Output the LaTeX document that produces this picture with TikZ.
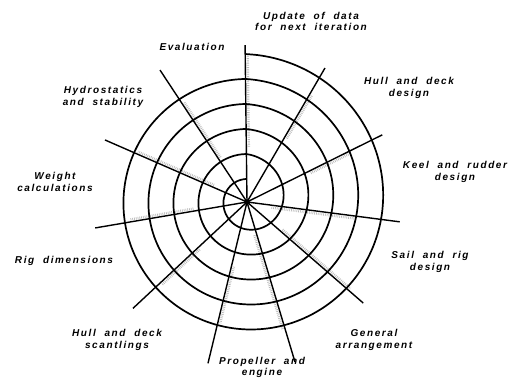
\documentclass[tikz,border=0pt]{standalone}
\usepackage{fontspec}
\newfontfamily\lblfont[LetterSpace=16,WordSpace=2.0]{Liberation Sans}
\usetikzlibrary{positioning}

\begin{document}
\begin{tikzpicture}[x=1pt,y=1pt]
\tikzset{
  spoke/.style={line width=1.4pt},
  ring/.style={line width=1.7pt},
  stipple/.style={gray!55,line width=2.4pt,dash pattern=on 0.7pt off 1.1pt},
  lbl/.style={align=center,inner sep=0pt,font={\lblfont\bfseries\itshape\fontsize{10}{11.5}\selectfont}}
}
\useasboundingbox (0,0) rectangle (520,378);
\coordinate (hub) at (247,176);
% spoke ends
\coordinate (e_update) at ([shift={(90.7:157)}]hub);
\coordinate (e_hulldeck) at ([shift={(59.8:155)}]hub);
\coordinate (e_keel) at ([shift={(26.4:151)}]hub);
\coordinate (e_sail) at ([shift={(-7.4:154)}]hub);
\coordinate (e_ga) at ([shift={(-41:154)}]hub);
\coordinate (e_propr) at ([shift={(-73.3:167)}]hub);
\coordinate (e_propl) at ([shift={(-103.6:166)}]hub);
\coordinate (e_scant) at ([shift={(-137:156)}]hub);
\coordinate (e_rig) at ([shift={(-170.3:154)}]hub);
\coordinate (e_weight) at ([shift={(156.4:155)}]hub);
\coordinate (e_eval) at ([shift={(123.4:158)}]hub);
% shading along the spokes
\draw[stipple,shift={(hub)},rotate=90.7,yshift=-2.5] (55,0) -- (146,0);
\draw[stipple,shift={(hub)},rotate=59.8,yshift=-2.5] (75,0) -- (125,0);
\draw[stipple,shift={(hub)},rotate=26.4,yshift=-2.5] (70,0) -- (115,0);
\draw[stipple,shift={(hub)},rotate=-7.4,yshift=-2.5] (25,0) -- (110,0);
\draw[stipple,shift={(hub)},rotate=-41,yshift=2.5] (45,0) -- (135,0);
\draw[stipple,shift={(hub)},rotate=-73.3,yshift=-2.5] (34,0) -- (133,0);
\draw[stipple,shift={(hub)},rotate=-103.6,yshift=2.5] (66,0) -- (124,0);
\draw[stipple,shift={(hub)},rotate=-137,yshift=2.5] (67,0) -- (119,0);
\draw[stipple,shift={(hub)},rotate=-170.3,yshift=-2.5] (54,0) -- (118,0);
\draw[stipple,shift={(hub)},rotate=156.4,yshift=-2.5] (37,0) -- (120,0);
\draw[stipple,shift={(hub)},rotate=123.4,yshift=-2.5] (52,0) -- (118,0);
% the spiral, five turns inward
\draw[ring,shift={(hub)}] plot[smooth,domain=0:1800,samples=361] ({90.7-\x}:{148-\x/14.4-8*abs(sin(\x/2))});
% spokes
\draw[spoke] (hub) -- (e_update);
\draw[spoke] (hub) -- (e_hulldeck);
\draw[spoke] (hub) -- (e_keel);
\draw[spoke] (hub) -- (e_sail);
\draw[spoke] (hub) -- (e_ga);
\draw[spoke] (hub) -- (e_propr);
\draw[spoke] (hub) -- (e_propl);
\draw[spoke] (hub) -- (e_scant);
\draw[spoke] (hub) -- (e_rig);
\draw[spoke] (hub) -- (e_weight);
\draw[spoke] (hub) -- (e_eval);
\fill (hub) circle (2.8);
% labels
\node[lbl] (l_update) at (311,356.5) {Update of data\\for next iteration};
\node[lbl] (l_eval) at (192,331) {Evaluation};
\node[lbl] (l_hulldeck) at (409,290) {Hull and deck\\design};
\node[lbl] (l_keel) at (455,206) {Keel and rudder\\design};
\node[lbl] (l_sail) at (430,116) {Sail and rig\\design};
\node[lbl] (l_ga) at (374,38) {General\\arrangement};
\node[lbl] (l_prop) at (262,10.5) {Propeller and\\engine};
\node[lbl] (l_scant) at (117,38) {Hull and deck\\scantlings};
\node[lbl] (l_rig) at (64,117) {Rig dimensions};
\node[lbl] (l_weight) at (55,196) {Weight\\calculations};
\node[lbl] (l_hydro) at (103,281) {Hydrostatics\\and stability};
\end{tikzpicture}
\end{document}
